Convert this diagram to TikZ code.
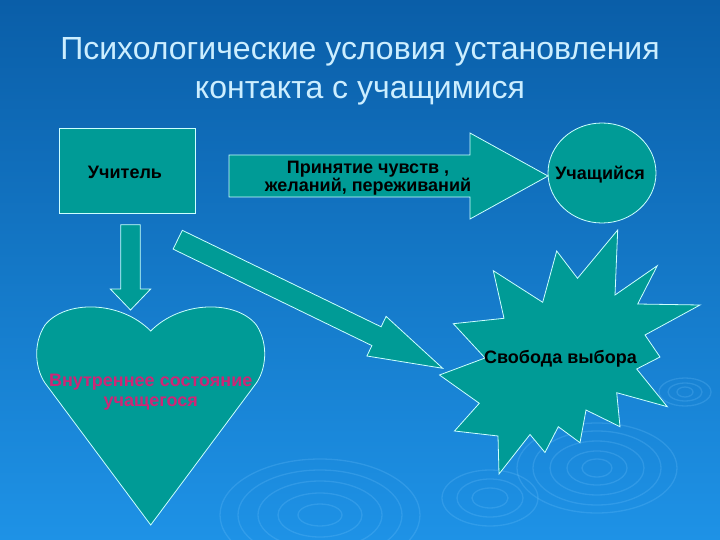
\documentclass[tikz,border=0pt]{standalone}
\usepackage{fontspec}
\setmainfont{Liberation Sans}
\definecolor{bgtop}{RGB}{10,94,168}
\definecolor{bgbot}{RGB}{30,146,230}
\definecolor{tealfill}{RGB}{0,155,150}
\definecolor{edgec}{RGB}{204,255,255}
\definecolor{titlec}{RGB}{204,238,255}
\definecolor{heartc}{RGB}{205,38,118}
\definecolor{ripc}{RGB}{120,200,255}
\begin{document}
\begin{tikzpicture}[x=1pt,y=-1pt,
  shapebox/.style={fill=tealfill,draw=edgec,line width=0.8pt,line join=miter},
  lbl/.style={font=\bfseries\fontsize{18}{18}\selectfont,text=black,inner sep=0pt,anchor=base},
  ttl/.style={font=\fontsize{32}{38}\selectfont,text=titlec,inner sep=0pt,anchor=base},
  ripple/.style={draw=ripc,opacity=0.22,line width=1.3pt}]
\useasboundingbox (0,0) rectangle (720,540);
\shade[top color=bgtop,bottom color=bgbot] (0,0) rectangle (720,540);
% background ripples
\foreach \rx/\ry in {100/56,82/45,62/34,42/22,22/11}
  \draw[ripple] (320,515) ellipse [x radius=\rx, y radius=\ry];
\foreach \rx/\ry in {48/28,33/19,18/10}
  \draw[ripple] (490,498) ellipse [x radius=\rx, y radius=\ry];
\foreach \rx/\ry in {80/45,64/37,47/27,30/17,15/9}
  \draw[ripple] (597,468) ellipse [x radius=\rx, y radius=\ry];
\foreach \rx/\ry in {26/14,17/9,8/5}
  \draw[ripple] (685,392) ellipse [x radius=\rx, y radius=\ry];
% title
\node[ttl] (title1) at (360,60) {Психологические условия установления};
\node[ttl] (title2) at (360,99) {контакта с учащимися};
% teacher box
\draw[shapebox] (59,128) rectangle (195,213);
% right block arrow
\draw[shapebox] (229,155) -- (470,155) -- (470,133) -- (548,176) -- (470,219) -- (470,197) -- (229,197) -- cycle;
% pupil circle
\draw[shapebox] (602,173) ellipse [x radius=54, y radius=50];
% down block arrow
\draw[shapebox] (120.7,224.7) -- (140.3,224.7) -- (140.3,289) -- (150.7,289) -- (130.5,310) -- (110.3,289) -- (120.7,289) -- cycle;
% diagonal block arrow
\draw[shapebox] (182.3,230.3) -- (381.1,326.8) -- (386.1,316.4) -- (442.7,368.3) -- (366.9,356.0) -- (371.9,345.6) -- (173.1,249.1) -- cycle;
% heart
\draw[shapebox] (150.7,331) .. controls (120,300) and (65,300) .. (45,325)
  .. controls (32,345) and (36,370) .. (45,383) -- (150.7,525) -- (256.4,383)
  .. controls (265.4,370) and (269.4,345) .. (256.4,325)
  .. controls (236.4,300) and (181.4,300) .. (150.7,331) -- cycle;
% star
\draw[shapebox] (617.7,230) -- (615,295) -- (657.3,265.7) -- (637.7,304) -- (700,305)
  -- (645,335) -- (660,357) -- (636.7,369) -- (667.3,406.7) -- (616.7,392.7)
  -- (620,426.7) -- (586,410) -- (580,442.7) -- (558.3,426.7) -- (545,452.5)
  -- (530,434.5) -- (499,474) -- (498,436) -- (454.5,431) -- (479.3,403.3)
  -- (439.5,375) -- (485,358) -- (453.3,323.7) -- (504,318.3) -- (493.3,270.7)
  -- (542.7,302.3) -- (556.7,251) -- (577.5,278.3) -- cycle;
% labels
\node[lbl] (teacher) at (125,178.5) {Учитель};
\node[lbl] (accept1) at (368,174) {Принятие чувств ,};
\node[lbl] (accept2) at (368,191.7) {желаний, переживаний};
\node[lbl] (pupil) at (600,180) {Учащийся};
\node[lbl,text=heartc] (inner1) at (150.7,386.7) {Внутреннее состояние};
\node[lbl,text=heartc] (inner2) at (150.7,406.7) {учащегося};
\node[lbl] (freedom) at (560.5,363.3) {Свобода выбора};
\end{tikzpicture}
\end{document}
